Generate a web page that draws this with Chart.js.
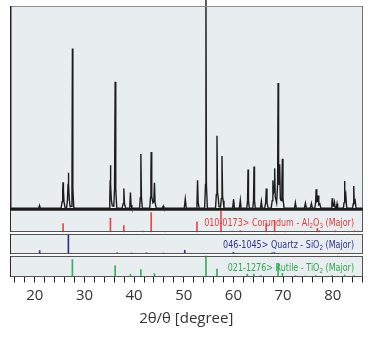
<!DOCTYPE html>
<html>
<head>
<meta charset="utf-8">
<script src="https://cdn.jsdelivr.net/npm/chart.js@4.4.1/dist/chart.umd.min.js"></script>
<style>
  html, body { margin: 0; padding: 0; background: #fff; }
  canvas { display: block; }
</style>
</head>
<body>
<canvas id="xrd" width="377" height="337"></canvas>
<script>
// measured pattern, [2θ, intensity %]
const scan = [
  [15.0, 0.3],
  [20.8, 0.3], [20.95, 1.6], [21.1, 0.3],
  [25.3, 0.3], [25.5, 3.5], [25.62, 9], [25.69, 13], [25.76, 9], [25.88, 3.5], [26.1, 0.4],
  [26.4, 0.4], [26.58, 4.5], [26.69, 12], [26.76, 17.7], [26.83, 12], [26.94, 4.5], [27.12, 1.0],
  [27.35, 1.2], [27.48, 10], [27.57, 79], [27.66, 10], [27.85, 0.3],
  [34.95, 0.3], [35.1, 4.5], [35.18, 14], [35.23, 21.5], [35.3, 12], [35.4, 4.5], [35.6, 1.5],
  [35.9, 1.2], [36.06, 10], [36.18, 62.6], [36.3, 10], [36.5, 0.3],
  [37.6, 0.3], [37.8, 2.5], [37.93, 10], [38.06, 2.5], [38.3, 0.3],
  [39.0, 0.3], [39.14, 1.8], [39.26, 8], [39.38, 1.8], [39.55, 0.3],
  [41.1, 0.3], [41.25, 5.5], [41.36, 27], [41.47, 5.5], [41.65, 0.3],
  [43.15, 0.3], [43.3, 5.6], [43.38, 18], [43.44, 28], [43.5, 18], [43.6, 6], [43.78, 3], [43.96, 3.5], [44.10, 12.8], [44.22, 3], [44.45, 0.3],
  [45.7, 0.3], [45.86, 1.3], [46.0, 0.3],
  [50.1, 0.3], [50.3, 4.8], [50.5, 0.3],
  [52.5, 0.3], [52.66, 3], [52.78, 14], [52.9, 3], [53.1, 0.3],
  [54.2, 0.3], [54.38, 12], [54.47, 104], [54.56, 12], [54.75, 0.3],
  [56.4, 0.3], [56.56, 7], [56.69, 36], [56.8, 8], [56.94, 5.5], [57.1, 1],
  [57.4, 0.8], [57.56, 5], [57.70, 26], [57.82, 6], [57.94, 4], [58.1, 0.3],
  [59.85, 0.3], [60.04, 4.8], [60.2, 0.3],
  [61.2, 0.3], [61.39, 4.2], [61.55, 0.3],
  [62.7, 0.3], [62.85, 4], [62.94, 19.3], [63.03, 4], [63.2, 0.3],
  [63.9, 0.3], [64.05, 4], [64.15, 20.8], [64.25, 4], [64.4, 0.3],
  [65.45, 0.3], [65.63, 3.7], [65.8, 0.3],
  [66.3, 0.3], [66.5, 3], [66.63, 10], [66.76, 3], [67.0, 0.3],
  [67.6, 0.3], [67.82, 4], [67.95, 14], [68.1, 8], [68.22, 9], [68.31, 20], [68.42, 6], [68.7, 3],
  [68.9, 12], [69.0, 62], [69.1, 14], [69.2, 12], [69.32, 22], [69.45, 5], [69.62, 4], [69.76, 12],
  [69.86, 24.7], [69.98, 5], [70.2, 0.3],
  [72.3, 0.3], [72.48, 3], [72.65, 0.3],
  [74.3, 0.3], [74.5, 2.8], [74.7, 0.3],
  [75.5, 0.3], [75.71, 2.6], [75.9, 0.3],
  [76.4, 0.3], [76.56, 3], [76.66, 9.6], [76.8, 3.5], [76.95, 3.8], [77.06, 6.5], [77.2, 2], [77.4, 2.4], [77.6, 0.3],
  [79.7, 0.3], [79.82, 1.5], [79.89, 5.2], [80.0, 1.5], [80.2, 1.3], [80.35, 3.2], [80.5, 0.5],
  [80.7, 0.3], [80.87, 2.5], [81.0, 0.3],
  [82.15, 0.3], [82.28, 3], [82.37, 13.7], [82.47, 4.5], [82.63, 7], [82.8, 0.8], [83.0, 0.3],
  [84.0, 0.3], [84.14, 2.5], [84.24, 11.2], [84.34, 3], [84.52, 4], [84.7, 0.3],
  [86.0, 0.3]
];

// reference lines, [2θ, relative height %]
const corundumLines = [
  [25.69, 40], [35.23, 65], [37.93, 30], [41.75, 5], [43.44, 90], [46.2, 3],
  [52.66, 48], [57.5, 100], [59.8, 5], [61.39, 8], [66.6, 40], [68.3, 55],
  [70.4, 3], [74.3, 3], [76.9, 18], [77.3, 8], [80.5, 6], [83.2, 3], [84.4, 6], [85.1, 5]
];
const quartzLines = [
  [20.98, 17], [26.76, 100], [36.6, 6], [39.5, 5], [40.3, 4], [42.5, 6], [45.9, 5],
  [50.2, 18], [54.9, 4], [55.4, 2], [60.0, 9], [64.0, 2], [67.8, 6], [68.2, 7], [68.4, 5],
  [73.5, 2], [75.7, 3], [77.7, 2], [79.9, 2], [81.2, 2], [81.5, 2]
];
const rutileLines = [
  [27.57, 81], [36.18, 51], [39.26, 10], [41.36, 33], [44.1, 14], [54.47, 100],
  [56.69, 35], [62.8, 12], [64.1, 12], [65.5, 4], [69.0, 60], [69.86, 15],
  [72.5, 4], [74.5, 2], [76.6, 5], [79.9, 4], [82.4, 7], [84.3, 5]
];

const xTicks = [16, 18, 20, 22, 24, 26, 28, 30, 32, 34, 36, 38, 40, 42, 44, 46, 48, 50,
  52, 54, 56, 58, 60, 62, 64, 66, 68, 70, 72, 74, 76, 78, 80, 82, 84, 86];
const xTickLabels = [20, 30, 40, 50, 60, 70, 80];

// card labels, split so the formula digits can be set as subscripts
const corundumLabel = [['010-0173> Corundum - Al'], ['2', 1], ['O'], ['3', 1], [' (Major)']];
const quartzLabel = [['046-1045> Quartz - SiO'], ['2', 1], [' (Major)']];
const rutileLabel = [['021-1276> Rutile - TiO'], ['2', 1], [' (Major)']];

const FONT = '"Open Sans", "DejaVu Sans", sans-serif';
const LABEL_FONT = '"Liberation Sans Narrow", "DejaVu Sans Condensed", "Open Sans", sans-serif';
const PANEL_BG = '#e8edf0';

const stickPanels = [
  { axis: 'yC', label: corundumLabel, color: '#e23b3b' },
  { axis: 'yQ', label: quartzLabel, color: '#2e3192' },
  { axis: 'yR', label: rutileLabel, color: '#2fa84f' }
];

// right-aligned label, squeezed a little to a narrow face
function drawLabel(ctx, parts, right, y, color) {
  const squeeze = 0.89;
  const big = '10px ' + LABEL_FONT;
  const small = '7px ' + LABEL_FONT;
  let w = 0;
  parts.forEach(p => { ctx.font = p[1] ? small : big; w += ctx.measureText(p[0]).width; });
  ctx.save();
  ctx.translate(right - w * squeeze, y);
  ctx.scale(squeeze, 1);
  ctx.fillStyle = color;
  ctx.textBaseline = 'alphabetic';
  ctx.textAlign = 'left';
  let x = 0;
  parts.forEach(p => {
    ctx.font = p[1] ? small : big;
    ctx.fillText(p[0], x, p[1] ? 2 : 0);
    x += ctx.measureText(p[0]).width;
  });
  ctx.restore();
}

const panelPlugin = {
  id: 'panels',
  beforeDatasetsDraw(chart) {
    const { ctx, chartArea } = chart;
    const w = chartArea.right - chartArea.left;
    ctx.save();
    ctx.fillStyle = PANEL_BG;
    ['y', 'yC', 'yQ', 'yR'].forEach(id => {
      const s = chart.scales[id];
      ctx.fillRect(chartArea.left, s.top, w, s.bottom - s.top);
    });
    ctx.restore();
  },
  afterDatasetsDraw(chart) {
    const { ctx, chartArea } = chart;
    const L = Math.round(chartArea.left), R = Math.round(chartArea.right);
    ctx.save();
    // main frame
    const m = chart.scales.y;
    const mt = Math.round(m.top), mb = Math.round(m.bottom);
    ctx.lineWidth = 1;
    ctx.strokeStyle = '#8c8c8c';
    ctx.beginPath(); ctx.moveTo(L, mt + 0.5); ctx.lineTo(R, mt + 0.5); ctx.stroke();
    ctx.strokeStyle = '#6f6f6f';
    ctx.beginPath(); ctx.moveTo(R - 0.5, mt); ctx.lineTo(R - 0.5, mb); ctx.stroke();
    ctx.strokeStyle = '#262626';
    ctx.lineWidth = 1.5;
    ctx.beginPath(); ctx.moveTo(L + 0.75, mt); ctx.lineTo(L + 0.75, mb); ctx.stroke();
    ctx.lineWidth = 2;
    ctx.strokeStyle = '#1a1a1a';
    ctx.beginPath(); ctx.moveTo(L, mb - 1); ctx.lineTo(R, mb - 1); ctx.stroke();

    // phase panels
    stickPanels.forEach(p => {
      const s = chart.scales[p.axis];
      const t = Math.round(s.top), b = Math.round(s.bottom);
      ctx.lineWidth = 1;
      ctx.strokeStyle = '#555';
      ctx.strokeRect(L + 0.5, t + 0.5, R - L - 1, b - t - 1);
      ctx.strokeStyle = '#2a2a2a';
      ctx.beginPath(); ctx.moveTo(L + 0.5, t); ctx.lineTo(L + 0.5, b); ctx.stroke();
      drawLabel(ctx, p.label, R - 9, b - 6, p.color);
    });
    ctx.restore();
  }
};

const hiddenAxis = (weight, order, min, max) => ({
  type: 'linear',
  position: 'left',
  stack: 'panels',
  stackWeight: weight,
  weight: order,
  stacked: false,
  min: min,
  max: max,
  offset: false,
  ticks: { display: false },
  grid: { display: false, drawTicks: false },
  border: { display: false }
});

// all stick sets share one bar group so each bar sits centred on its 2θ
const stickSet = (lines, axis, color) => ({
  type: 'bar',
  data: lines.map(([x, y]) => ({ x, y })),
  yAxisID: axis,
  stack: 'cards',
  backgroundColor: color,
  borderWidth: 0,
  barThickness: 1
});

new Chart(document.getElementById('xrd'), {
  type: 'line',
  data: {
    datasets: [
      {
        data: scan.map(([x, y]) => ({ x, y })),
        yAxisID: 'y',
        borderColor: '#1c1c1c',
        borderWidth: 1.4,
        pointRadius: 0,
        tension: 0,
        clip: false
      },
      stickSet(corundumLines, 'yC', '#e4464c'),
      stickSet(quartzLines, 'yQ', '#2e3192'),
      stickSet(rutileLines, 'yR', '#36b05a')
    ]
  },
  options: {
    responsive: false,
    animation: false,
    devicePixelRatio: 1,
    events: [],
    layout: { padding: { left: 10, right: 14.5, top: 6, bottom: 9.5 } },
    plugins: { legend: { display: false }, tooltip: { enabled: false } },
    scales: {
      x: {
        type: 'linear',
        position: 'bottom',
        min: 15,
        max: 86,
        offset: false,
        afterBuildTicks: scale => { scale.ticks = xTicks.map(v => ({ value: v })); },
        ticks: {
          autoSkip: false,
          maxRotation: 0,
          padding: 4,
          color: '#333',
          font: { family: FONT, size: 15 },
          callback: v => (xTickLabels.includes(v) ? String(v) : '')
        },
        grid: { drawOnChartArea: false, offset: false, tickLength: 6, tickColor: '#222', lineWidth: 1 },
        border: { display: false },
        title: {
          display: true,
          text: '2θ/θ [degree]',
          color: '#333',
          font: { family: FONT, size: 15 },
          padding: { top: 1, bottom: 0 }
        }
      },
      y: hiddenAxis(205.5, 6, -0.8, 100),
      yC: hiddenAxis(22, 5, 0, 100),
      g1: hiddenAxis(1.5, 4, 0, 1),
      yQ: hiddenAxis(20.5, 3, 0, 100),
      g2: hiddenAxis(1.5, 2, 0, 1),
      yR: hiddenAxis(21, 1, 0, 100)
    }
  },
  plugins: [panelPlugin]
});
</script>
</body>
</html>
